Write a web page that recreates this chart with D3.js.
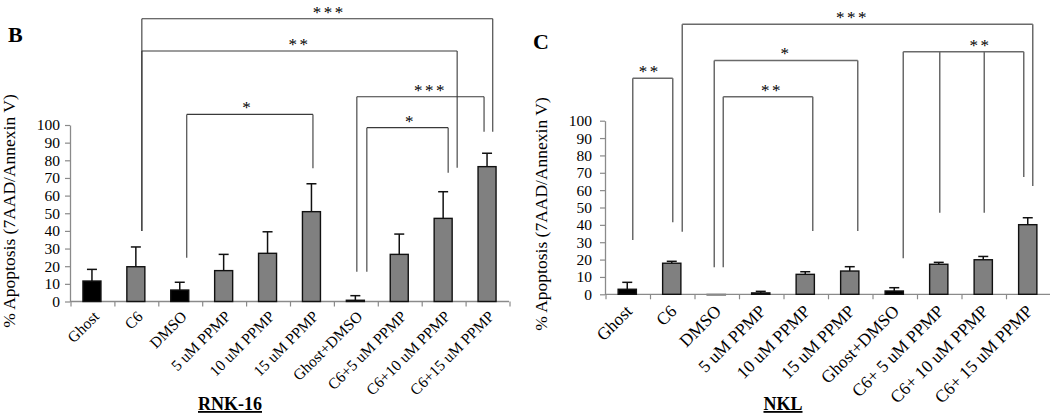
<!DOCTYPE html>
<html><head><meta charset="utf-8">
<script src="https://cdn.jsdelivr.net/npm/d3@7"></script>
<style>
body{margin:0;background:#fff}
svg{display:block}
text{font-family:"Liberation Serif","Times New Roman",serif;fill:#000}
</style>
</head><body>
<svg id="chart" width="1050" height="415"></svg>
<script>
// ---------- DATA ----------
const yTicks = [0,10,20,30,40,50,60,70,80,90,100];
const yTitle = "% Apoptosis (7AAD/Annexin V)";

// Panel B: RNK-16
const categoriesRNK = ["Ghost","C6","DMSO","5 uM PPMP","10 uM PPMP","15 uM PPMP","Ghost+DMSO","C6+5 uM PPMP","C6+10 uM PPMP","C6+15 uM PPMP"];
const meansRNK = [11.6, 19.7, 6.5, 17.5, 27.3, 50.9, 0.7, 26.7, 47.1, 76.4];
const upperRNK = [18.2, 30.9, 10.9, 26.7, 39.5, 66.7, 3.3, 38.2, 62.2, 84.0];
const controlsRNK = ["Ghost","DMSO","Ghost+DMSO"];
const bracketsRNK = [
  {label:"***", level:160.2, legs:[["C6",40],["C6+15 uM PPMP",96.2]]},
  {label:"**",  level:141.9, legs:[["C6",40],["C6+10 uM PPMP",75.8]]},
  {label:"***", level:116,   legs:[["Ghost+DMSO",16.9],["C6+15 uM PPMP",96.2]]},
  {label:"*",   level:106,   legs:[["DMSO",24.8],["15 uM PPMP",75.5]]},
  {label:"*",   level:98.5,  legs:[["Ghost+DMSO",16.9],["C6+10 uM PPMP",73]]}
];

// Panel C: NKL
const categoriesNKL = ["Ghost","C6","DMSO","5 uM PPMP","10 uM PPMP","15 uM PPMP","Ghost+DMSO","C6+ 5 uM PPMP","C6+ 10 uM PPMP","C6+ 15 uM PPMP"];
const meansNKL = [2.9, 17.9, -0.5, 0.8, 11.5, 13.4, 1.9, 17.3, 19.9, 40.1];
const upperNKL = [6.9, 19.0, -0.5, 1.7, 13.0, 15.9, 3.8, 18.4, 21.8, 44.1];
const controlsNKL = ["Ghost","Ghost+DMSO"];
const bracketsNKL = [
  {label:"**",  level:124.4, legs:[["Ghost",31.3],["C6",41.5]]},
  {label:"***", level:155.5, legs:[["C6",36.1],["C6+ 15 uM PPMP",62.4]]},
  {label:"*",   level:134.7, legs:[["DMSO",15.6],["15 uM PPMP",36.5]]},
  {label:"**",  level:113.8, legs:[["DMSO",15.6],["10 uM PPMP",36.5]]},
  {label:"**",  level:139.7, legs:[["Ghost+DMSO",20.7],["C6+ 5 uM PPMP",47],["C6+ 10 uM PPMP",47],["C6+ 15 uM PPMP",67.6]]}
];

// ---------- LAYOUT / STYLE ----------
const panels = [
  {letter:"B", name:"RNK-16", cats:categoriesRNK, means:meansRNK, upper:upperRNK, controls:controlsRNK, brackets:bracketsRNK,
   x0:70, x1:509, y0:301.5, y100:125, letterX:8, letterY:42, nameX:230, titleX:15, titleY:211,
   legDx:[[6,5.7],[6,14],[1.5,-3],[7,1.5],[11.5,5]], labelDx:[12,0,10,-2,3],
   bracketColor:"#3a3a3a", bracketWidth:1.1, tickPad:5, xFont:15.5, xLabDx:8, xLabDy:16},
  {letter:"C", name:"NKL", cats:categoriesNKL, means:meansNKL, upper:upperNKL, controls:controlsNKL, brackets:bracketsNKL,
   x0:605, x1:1050, y0:294.3, y100:120.7, letterX:533, letterY:49, nameX:783, titleX:547, titleY:214,
   legDx:[[5.5,1],[10.5,5],[-2,8],[7,7.5],[9,1,1,-4]], labelDx:[-3,-5,0,4,17],
   bracketColor:"#6a6a6a", bracketWidth:1.5, tickPad:8, xFont:17.5, xLabDx:6, xLabDy:18}
];

const svg = d3.select("#chart");

panels.forEach(p => {
  const g = svg.append("g");
  const x = d3.scaleBand().domain(p.cats).range([p.x0, p.x1]).padding(0);
  const y = d3.scaleLinear().domain([0,100]).range([p.y0, p.y100]);
  const bw = x.bandwidth()*0.41;
  const cx = c => x(c) + x.bandwidth()/2;

  // y axis
  const yAx = g.append("g").attr("transform",`translate(${p.x0},0)`)
    .call(d3.axisLeft(y).tickValues(yTicks).tickSize(5).tickSizeOuter(0).tickPadding(p.tickPad).tickFormat(d3.format("d")));
  yAx.attr("font-family",null);
  yAx.select(".domain").attr("stroke","#8a8a8a").attr("stroke-width",1.3);
  yAx.selectAll(".tick line").attr("stroke","#8a8a8a").attr("stroke-width",1.2);
  yAx.selectAll(".tick text").attr("font-size",15.5).attr("fill","#000");

  // x axis line + boundary ticks
  g.append("line").attr("x1",p.x0).attr("x2",p.x1).attr("y1",y(0)).attr("y2",y(0))
    .attr("stroke","#8a8a8a").attr("stroke-width",1.3);
  const bounds = p.cats.map(c => x(c)).concat([p.x1]);
  g.selectAll(".xt").data(bounds).join("line")
    .attr("x1",d=>d+1).attr("x2",d=>d+1).attr("y1",y(0)).attr("y2",y(0)+5)
    .attr("stroke","#8a8a8a").attr("stroke-width",1.2);

  // x labels
  g.selectAll(".xl").data(p.cats).join("text")
    .attr("transform",c=>`translate(${cx(c)+p.xLabDx},${y(0)+p.xLabDy}) rotate(-45)`)
    .attr("text-anchor","end").attr("font-size",p.xFont).text(c=>c);

  // bars
  g.selectAll(".bar").data(p.cats).join("rect")
    .attr("x",c=>cx(c)-bw/2)
    .attr("y",(c,i)=>y(Math.max(p.means[i],0)))
    .attr("width",bw)
    .attr("height",(c,i)=>Math.abs(y(p.means[i])-y(0)))
    .attr("fill",c=>p.controls.includes(c)?"#000":"#808080")
    .attr("stroke",(c,i)=>p.means[i]<0?"#8a8a8a":"#111").attr("stroke-width",1.4);

  // error bars
  p.cats.forEach((c,i)=>{
    if (p.upper[i] <= p.means[i]) return;
    g.append("line").attr("x1",cx(c)).attr("x2",cx(c)).attr("y1",y(p.means[i])).attr("y2",y(p.upper[i]))
      .attr("stroke","#111").attr("stroke-width",1.5);
    g.append("line").attr("x1",cx(c)-5).attr("x2",cx(c)+5).attr("y1",y(p.upper[i])).attr("y2",y(p.upper[i]))
      .attr("stroke","#111").attr("stroke-width",1.5);
  });

  // significance brackets
  p.brackets.forEach((b,bi)=>{
    const xs = b.legs.map((l,li)=>cx(l[0]) + p.legDx[bi][li]);
    const yl = y(b.level);
    g.append("line").attr("x1",xs[0]).attr("x2",xs[xs.length-1]).attr("y1",yl).attr("y2",yl)
      .attr("stroke",p.bracketColor).attr("stroke-width",p.bracketWidth);
    b.legs.forEach((l,li)=>{
      g.append("line").attr("x1",xs[li]).attr("x2",xs[li]).attr("y1",yl).attr("y2",y(l[1]))
        .attr("stroke",p.bracketColor).attr("stroke-width",p.bracketWidth);
    });
    g.append("text").attr("x",(xs[0]+xs[xs.length-1])/2 + p.labelDx[bi]).attr("y",yl-1)
      .attr("text-anchor","middle").attr("font-size",17).attr("letter-spacing","2.5px").text(b.label);
  });

  // y title
  g.append("text").attr("transform",`translate(${p.titleX},${p.titleY}) rotate(-90)`)
    .attr("text-anchor","middle").attr("font-size",17.5).text(yTitle);

  // panel letter
  g.append("text").attr("x",p.letterX).attr("y",p.letterY).attr("font-size",22).attr("font-weight","bold").text(p.letter);

  // cell line name
  g.append("text").attr("x",p.nameX).attr("y",410).attr("text-anchor","middle").attr("font-size",18)
    .attr("font-weight","bold").attr("text-decoration","underline").text(p.name);
});
</script>
</body></html>
